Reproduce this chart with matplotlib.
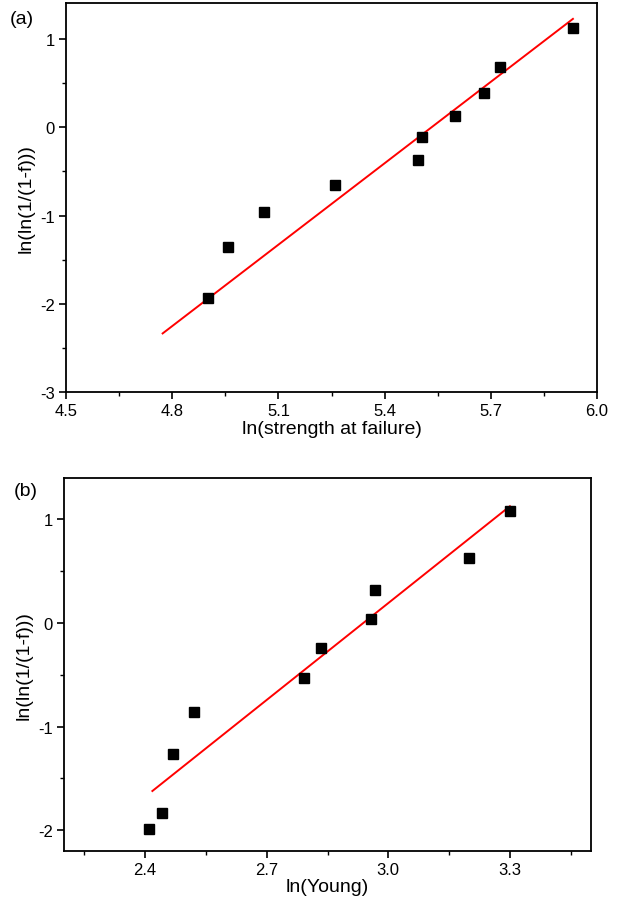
import matplotlib
matplotlib.use("Agg")
import matplotlib.pyplot as plt
from matplotlib.ticker import MultipleLocator

plt.rcParams['font.family'] = ['Liberation Sans', 'DejaVu Sans']
plt.rcParams['axes.unicode_minus'] = False

# (a) strength at failure
strength_x = [4.901, 4.959, 5.059, 5.261, 5.494, 5.507, 5.599, 5.680, 5.726, 5.932]
strength_y = [-1.932, -1.358, -0.962, -0.649, -0.374, -0.113, 0.132, 0.389, 0.683, 1.121]
strength_fit_x = [4.773, 5.932]
strength_fit_y = [-2.336, 1.230]

# (b) Young's modulus
young_x = [2.410, 2.441, 2.470, 2.521, 2.792, 2.834, 2.958, 2.966, 3.200, 3.300]
young_y = [-1.988, -1.830, -1.260, -0.854, -0.529, -0.238, 0.039, 0.316, 0.628, 1.086]
young_fit_x = [2.418, 3.300]
young_fit_y = [-1.621, 1.128]

ylabel = "ln(ln(1/(1-f)))"


def style_axes(ax):
    for s in ax.spines.values():
        s.set_linewidth(1.3)
    ax.tick_params(which='major', direction='out', length=5, width=1.2,
                   labelsize=12, pad=3)
    ax.tick_params(which='minor', direction='out', length=3, width=1.0)


def draw_panel(ax, x, y, fx, fy, xlabel):
    ax.plot(fx, fy, color='red', lw=1.4, zorder=2)
    ax.plot(x, y, 's', color='black', ms=7.5, zorder=3)
    ax.set_xlabel(xlabel, fontsize=14, labelpad=1)
    ax.set_ylabel(ylabel, fontsize=14, labelpad=4)
    ax.yaxis.set_major_locator(MultipleLocator(1))
    ax.yaxis.set_minor_locator(MultipleLocator(0.5))
    style_axes(ax)


fig = plt.figure(figsize=(6.22, 9.03), dpi=100)

ax1 = fig.add_axes([66 / 622, 1 - 393 / 903, 531 / 622, 389 / 903])
draw_panel(ax1, strength_x, strength_y, strength_fit_x, strength_fit_y,
           "ln(strength at failure)")
ax1.set_xlim(4.5, 6.0)
ax1.set_ylim(-3, 1.41)
ax1.set_xticks([4.5, 4.8, 5.1, 5.4, 5.7, 6.0])
ax1.set_xticklabels(["4.5", "4.8", "5.1", "5.4", "5.7", "6.0"])
ax1.set_xticks([4.65, 4.95, 5.25, 5.55, 5.85], minor=True)
ax1.set_yticks([-3, -2, -1, 0, 1])

ax2 = fig.add_axes([64 / 622, 1 - 852 / 903, 527 / 622, 373 / 903])
draw_panel(ax2, young_x, young_y, young_fit_x, young_fit_y, "ln(Young)")
ax2.set_xlim(2.2, 3.5)
ax2.set_ylim(-2.2, 1.4)
ax2.set_xticks([2.4, 2.7, 3.0, 3.3])
ax2.set_xticklabels(["2.4", "2.7", "3.0", "3.3"])
ax2.set_xticks([2.25, 2.55, 2.85, 3.15, 3.45], minor=True)
ax2.set_yticks([-2, -1, 0, 1])

fig.text(10 / 622, 1 - 20 / 903, "(a)", fontsize=14, va='center', ha='left')
fig.text(14 / 622, 1 - 491 / 903, "(b)", fontsize=14, va='center', ha='left')

fig.savefig("out.png", dpi=100)
